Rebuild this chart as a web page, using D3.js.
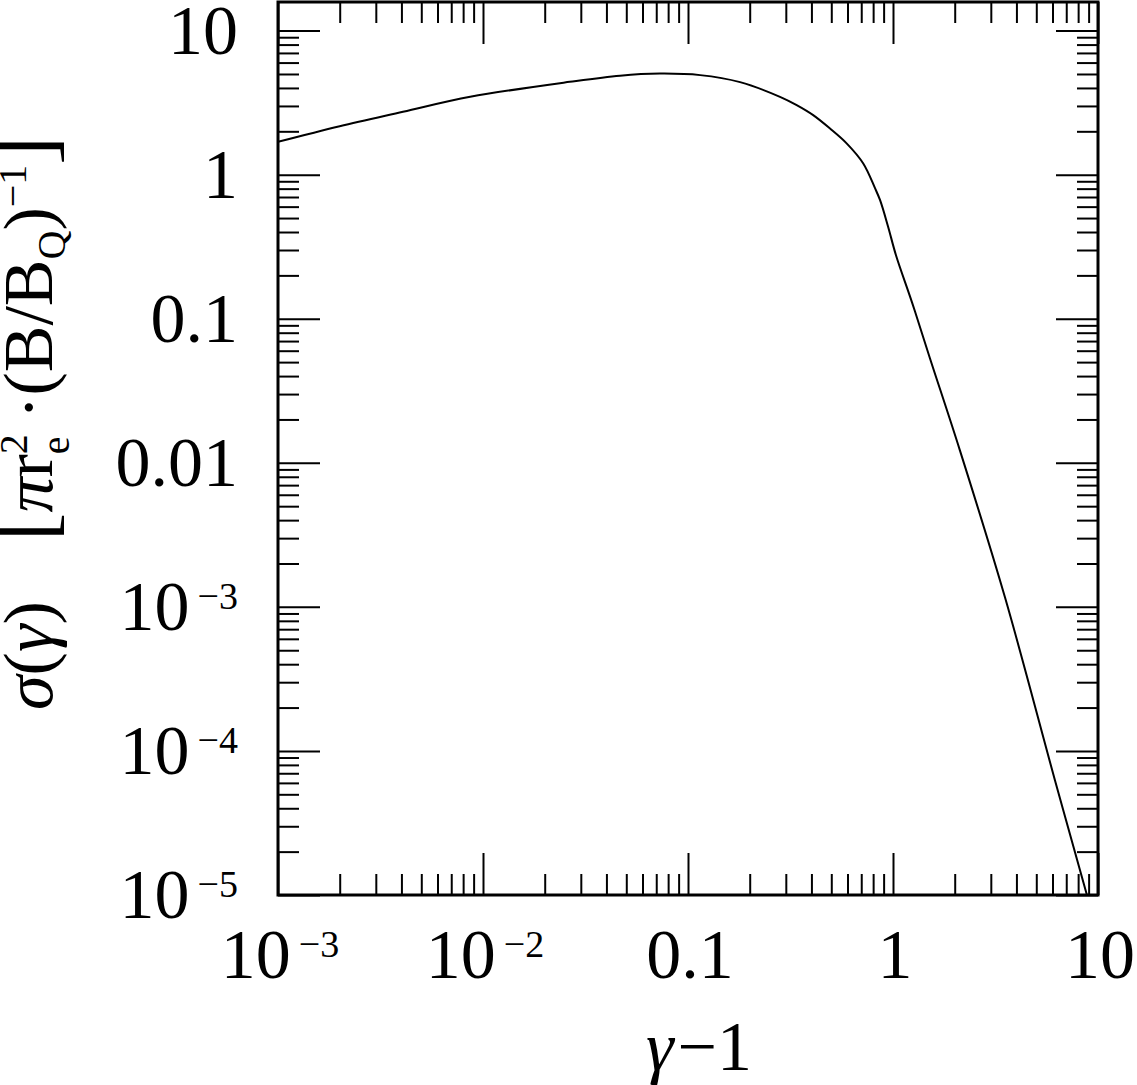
<!DOCTYPE html>
<meta charset="utf-8">
<script src="https://d3js.org/d3.v7.min.js"></script>
<style>
  body { margin: 0; background: #fff; }
  text { font-family: "Liberation Serif", "Times New Roman", serif; fill: #000; }
</style>
<div id="my_dataviz"></div>
<script>

// curve: gamma - 1 and cross section
var gammaMinus1 = [0.001, 0.002, 0.00407, 0.00866, 0.0265, 0.0466, 0.073, 0.1146, 0.1795, 0.281, 0.339, 0.408, 0.493, 0.594, 0.716, 0.817, 0.865, 0.945, 1.034, 1.238, 1.514, 2.12, 3.52, 6.17, 8.83, 9.3];
var sigma = [1.69, 2.17, 2.73, 3.47, 4.41, 4.87, 5.03, 4.91, 4.39, 3.47, 3.04, 2.59, 2.09, 1.65, 1.196, 0.806, 0.665, 0.439, 0.276, 0.130, 0.0532, 0.0122, 0.00116, 6.24e-5, 1e-5, 7.5e-6];

// tick labels: [base, exponent]
var xTickValues = [1e-3, 1e-2, 0.1, 1, 10];
var xTickLabels = [["10", "\u22123"], ["10", "\u22122"], ["0.1", ""], ["1", ""], ["10", ""]];
var yTickValues = [1e-5, 1e-4, 1e-3, 0.01, 0.1, 1, 10];
var yTickLabels = [["10", "\u22125"], ["10", "\u22124"], ["10", "\u22123"], ["0.01", ""], ["0.1", ""], ["1", ""], ["10", ""]];

var W = 1137, H = 1085;
var pLeft = 278, pRight = 1098, pTop = 2, pBottom = 895;

var svg = d3.select("#my_dataviz")
  .append("svg")
    .attr("width", W)
    .attr("height", H);

var x = d3.scaleLog().domain([1e-3, 10]).range([pLeft, pRight]);
var y = d3.scaleLog().domain([1e-5, 15.8]).range([pBottom, pTop]);

// minor ticks 2..9 in each decade
function minors(lo, hi) {
  var out = [];
  for (var e = lo; e < hi; e++)
    for (var m = 2; m <= 9; m++) out.push(m * Math.pow(10, e));
  return out;
}
var xMinor = minors(-3, 1);
var yMinor = minors(-5, 2).filter(function(v) { return v <= 15.8; });

function tickAxis(axisFn, scale, vals, len, tr) {
  svg.append("g")
    .attr("transform", tr)
    .call(axisFn(scale).tickValues(vals).tickSize(-len).tickFormat(""))
    .call(function(g) {
      g.select(".domain").remove();
      g.selectAll(".tick line").attr("stroke", "#000").attr("stroke-width", 2);
    });
}

tickAxis(d3.axisBottom, x, xMinor, 21, "translate(0," + pBottom + ")");
tickAxis(d3.axisBottom, x, xTickValues, 42, "translate(0," + pBottom + ")");
tickAxis(d3.axisTop, x, xMinor, 21, "translate(0," + pTop + ")");
tickAxis(d3.axisTop, x, xTickValues, 42, "translate(0," + pTop + ")");
tickAxis(d3.axisLeft, y, yMinor, 21, "translate(" + pLeft + ",0)");
tickAxis(d3.axisLeft, y, yTickValues, 42, "translate(" + pLeft + ",0)");
tickAxis(d3.axisRight, y, yMinor, 21, "translate(" + pRight + ",0)");
tickAxis(d3.axisRight, y, yTickValues, 42, "translate(" + pRight + ",0)");

// frame
svg.append("rect")
  .attr("x", pLeft).attr("y", pTop)
  .attr("width", pRight - pLeft).attr("height", pBottom - pTop)
  .attr("fill", "none").attr("stroke", "#000").attr("stroke-width", 3);

// curve
var data = gammaMinus1.map(function(g, i) { return {g: g, s: sigma[i]}; });
svg.append("clipPath").attr("id", "clip")
  .append("rect").attr("x", pLeft).attr("y", pTop)
  .attr("width", pRight - pLeft).attr("height", pBottom - pTop);
svg.append("path")
  .datum(data)
  .attr("clip-path", "url(#clip)")
  .attr("fill", "none")
  .attr("stroke", "#000")
  .attr("stroke-width", 2)
  .attr("d", d3.line()
    .x(function(d) { return x(d.g); })
    .y(function(d) { return y(d.s); })
    .curve(d3.curveCatmullRom.alpha(0.5)));

// tick labels
function label(sel, lab) {
  sel.append("tspan").text(lab[0]);
  if (lab[1]) {
    sel.append("tspan").attr("dx", 8).attr("dy", -21)
      .style("font-size", "38px").text(lab[1]);
  }
}
xTickValues.forEach(function(v, i) {
  var t = svg.append("text")
    .attr("x", x(v) + 2).attr("y", 978)
    .attr("text-anchor", "middle")
    .style("font-size", "70px");
  label(t, xTickLabels[i]);
});
yTickValues.forEach(function(v, i) {
  var t = svg.append("text")
    .attr("x", 238).attr("y", y(v) + 23)
    .attr("text-anchor", "end")
    .style("font-size", "70px");
  label(t, yTickLabels[i]);
});

// x title
var xt = svg.append("text")
  .attr("x", 699).attr("y", 1070)
  .attr("text-anchor", "middle")
  .style("font-size", "70px");
xt.append("tspan").style("font-style", "italic").text("\u03b3");
xt.append("tspan").attr("dx", 4).text("\u22121");

// y title
var yt = svg.append("text")
  .attr("transform", "translate(52,423) rotate(-90)")
  .attr("text-anchor", "middle")
  .style("font-size", "70px");
yt.append("tspan").style("font-style", "italic").text("\u03c3");
yt.append("tspan").text("(");
yt.append("tspan").style("font-style", "italic").text("\u03b3");
yt.append("tspan").text(")");
yt.append("tspan").attr("dx", 60).style("font-size", "86px").text("[");
yt.append("tspan").style("font-style", "italic").text("\u03c0");
yt.append("tspan").text("r");
yt.append("tspan").attr("dy", -25).style("font-size", "40px").text("2");
yt.append("tspan").attr("dx", -20).attr("dy", 42).style("font-size", "40px").text("e");
yt.append("tspan").attr("dy", -17).text(" \u00b7(B/B");
yt.append("tspan").attr("dy", 13).style("font-size", "40px").text("Q");
yt.append("tspan").attr("dy", -13).text(")");
yt.append("tspan").attr("dy", -26).style("font-size", "40px").text("\u22121");
yt.append("tspan").attr("dy", 26).style("font-size", "86px").text("]");

</script>
